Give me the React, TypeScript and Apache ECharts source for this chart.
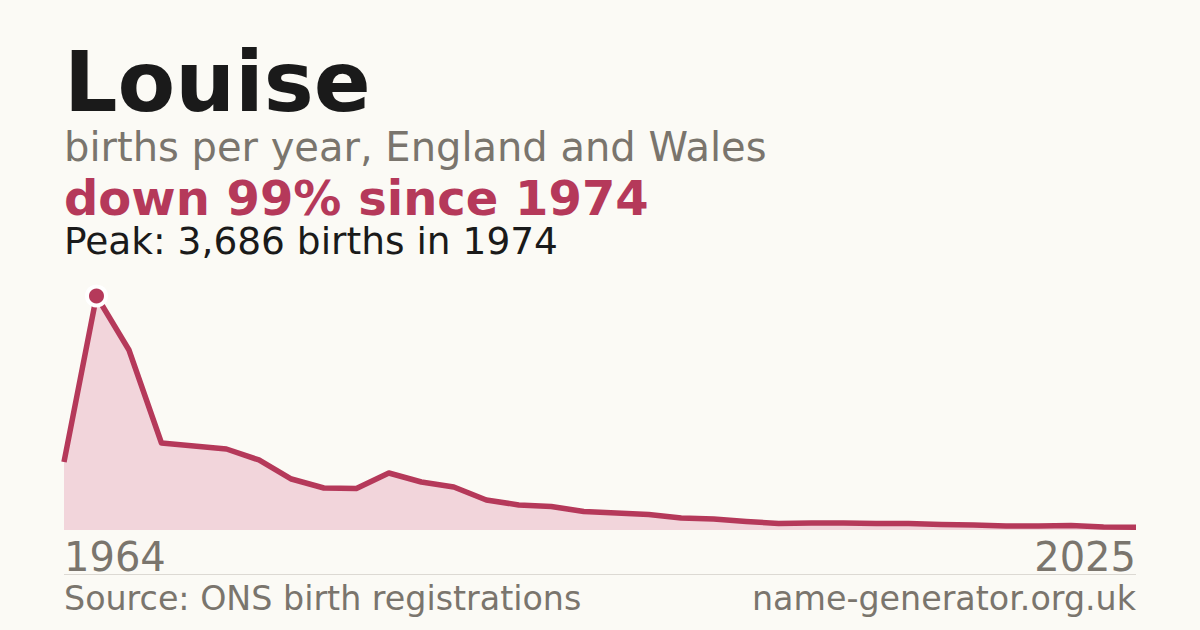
import { useEffect, useRef } from "react";
import * as echarts from "echarts";

const years = [
  "1964", "1974", "1984", "1994",
  "1996", "1997", "1998", "1999", "2000", "2001", "2002", "2003", "2004", "2005",
  "2006", "2007", "2008", "2009", "2010", "2011", "2012", "2013", "2014", "2015",
  "2016", "2017", "2018", "2019", "2020", "2021", "2022", "2023", "2024", "2025",
];
const births = [
  1071, 3686, 2835, 1370,
  1323, 1276, 1103, 803, 662, 654, 898, 756, 677, 473,
  394, 370, 291, 268, 244, 189, 173, 134, 102, 110,
  110, 102, 102, 87, 79, 63, 63, 71, 47, 45,
];
const peakIndex = 1;

const RED = "#b5395a";
const GREY = "#7a756d";
const INK = "#1a1a1a";
const BG = "#fbfaf5";
const FONT = "DejaVu Sans";

const App = () => {
  const chartRef = useRef<HTMLDivElement>(null);

  useEffect(() => {
    document.body.style.margin = "0";
    if (!chartRef.current) return;

    const chart = echarts.init(chartRef.current, null, { renderer: "svg" });
    const last = years.length - 1;

    chart.setOption({
      animation: false,
      backgroundColor: BG,
      textStyle: { fontFamily: FONT },
      grid: { left: 64, right: 64, top: 296, bottom: 100 },
      xAxis: {
        type: "category",
        data: years,
        boundaryGap: false,
        axisLine: { show: false },
        axisTick: { show: false },
        axisLabel: {
          interval: (i: number) => i === 0 || i === last,
          color: GREY,
          fontSize: 40,
          fontFamily: FONT,
          margin: 7,
          alignMinLabel: "left",
          alignMaxLabel: "right",
          hideOverlap: false,
        },
      },
      yAxis: {
        type: "value",
        min: 0,
        max: 3686,
        show: false,
      },
      series: [
        {
          type: "line",
          clip: false,
          symbol: "none",
          lineStyle: { color: RED, width: 5.5, join: "round" },
          areaStyle: { color: "#f2d5db", opacity: 1 },
          data: births.map((v, i) =>
            i === peakIndex
              ? {
                  value: v,
                  symbol: "circle",
                  symbolSize: 19,
                  itemStyle: { color: RED, borderColor: "#ffffff", borderWidth: 4 },
                }
              : v
          ),
        },
      ],
      graphic: [
        {
          type: "text",
          x: 64,
          y: 82,
          style: {
            text: "Louise",
            font: `bold 84px ${FONT}`,
            fill: INK,
            verticalAlign: "middle",
          },
        },
        {
          type: "text",
          x: 64,
          y: 146.5,
          style: {
            text: "births per year, England and Wales",
            font: `40px ${FONT}`,
            fill: GREY,
            verticalAlign: "middle",
          },
        },
        {
          type: "text",
          x: 64,
          y: 198,
          style: {
            text: "down 99% since 1974",
            font: `bold 48px ${FONT}`,
            lineHeight: 42,
            fill: RED,
            verticalAlign: "middle",
          },
        },
        {
          type: "text",
          x: 64,
          y: 241,
          style: {
            text: "Peak: 3,686 births in 1974",
            font: `37.5px ${FONT}`,
            lineHeight: 34,
            fill: INK,
            verticalAlign: "middle",
          },
        },
        {
          type: "line",
          shape: { x1: 64, y1: 574.5, x2: 1136, y2: 574.5 },
          style: { stroke: "#dcd9d3", lineWidth: 1 },
        },
        {
          type: "text",
          x: 64,
          y: 598.5,
          style: {
            text: "Source: ONS birth registrations",
            font: `33.3px ${FONT}`,
            fill: GREY,
            verticalAlign: "middle",
          },
        },
        {
          type: "text",
          x: 1136,
          y: 598.5,
          style: {
            text: "name-generator.org.uk",
            font: `33.3px ${FONT}`,
            fill: GREY,
            align: "right",
            verticalAlign: "middle",
          },
        },
      ],
    });

    return () => {
      chart.dispose();
    };
  }, []);

  return <div ref={chartRef} style={{ width: 1200, height: 630 }} />;
};

export default App;
